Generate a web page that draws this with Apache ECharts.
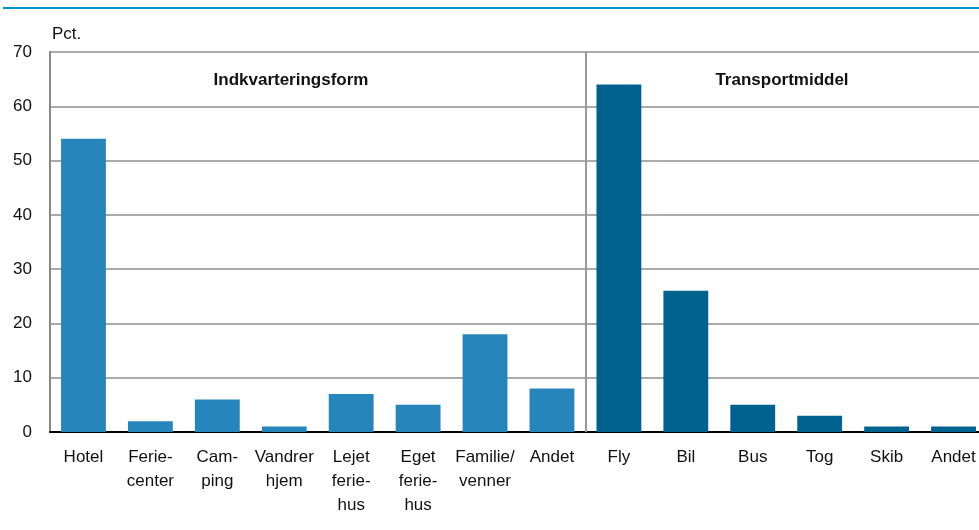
<!DOCTYPE html>
<html><head><meta charset="utf-8">
<script src="https://cdn.jsdelivr.net/npm/echarts@6/dist/echarts.min.js"></script>
<style>html,body{margin:0;padding:0;background:#fff}#c{width:979px;height:530px}</style>
</head><body><div id="c"></div>
<script>
const categories = ['Hotel','Ferie-\ncenter','Cam-\nping','Vandrer\nhjem','Lejet\nferie-\nhus','Eget\nferie-\nhus','Familie/\nvenner','Andet','Fly','Bil','Bus','Tog','Skib','Andet'];
const indkvartering = [54, 2, 6, 1, 7, 5, 18, 8];
const transport = [64, 26, 5, 3, 1, 1];
const yTicks = [0, 10, 20, 30, 40, 50, 60, 70];
const groupTitles = ['Indkvarteringsform', 'Transportmiddel'];

const FONT = '"Liberation Sans Narrow", "Arial Narrow", "Liberation Sans", Arial, sans-serif';
const c1 = '#2685BA', c2 = '#00628F';
const data = indkvartering.map(v => ({value: v, itemStyle: {color: c1}}))
  .concat(transport.map(v => ({value: v, itemStyle: {color: c2}})));

const chart = echarts.init(document.getElementById('c'));
chart.setOption({
  animation: false,
  grid: {left: 50, width: 937, top: 52, bottom: 98, outerBoundsMode: 'none', containLabel: false},
  xAxis: [{
    type: 'category', data: categories,
    axisLine: {lineStyle: {color: '#000', width: 2}},
    axisTick: {show: false},
    axisLabel: {color: '#111', fontFamily: FONT, fontSize: 17, lineHeight: 24, margin: 13, interval: 0}
  }, {
    type: 'value', min: 0, max: 14, show: false
  }],
  yAxis: {
    type: 'value', min: yTicks[0], max: yTicks[yTicks.length-1], interval: 10,
    axisLine: {show: true, lineStyle: {color: '#888', width: 2}},
    axisTick: {show: false},
    axisLabel: {color: '#111', fontFamily: FONT, fontSize: 17, margin: 18},
    splitLine: {lineStyle: {color: '#aaa', width: 2}}
  },
  series: [{
    type: 'bar', data: data, barWidth: '67%', xAxisIndex: 0
  }, {
    type: 'line', xAxisIndex: 1, data: [], symbol: 'none',
    markLine: {silent: true, symbol: 'none', label: {show: false},
      lineStyle: {color: '#999', width: 2, type: 'solid'},
      data: [{xAxis: indkvartering.length}]}
  }],
  graphic: [
    {type: 'rect', left: 3, top: 7, shape: {width: 976, height: 2}, style: {fill: '#0093D6'}},
    {type: 'text', left: 52, top: 26, style: {text: 'Pct.', font: '17px ' + FONT, fill: '#111'}},
    {type: 'text', x: 291, y: 72, style: {text: groupTitles[0], font: 'bold 17px ' + FONT, fill: '#111', textAlign: 'center'}},
    {type: 'text', x: 782, y: 72, style: {text: groupTitles[1], font: 'bold 17px ' + FONT, fill: '#111', textAlign: 'center'}}
  ]
});
</script></body></html>
